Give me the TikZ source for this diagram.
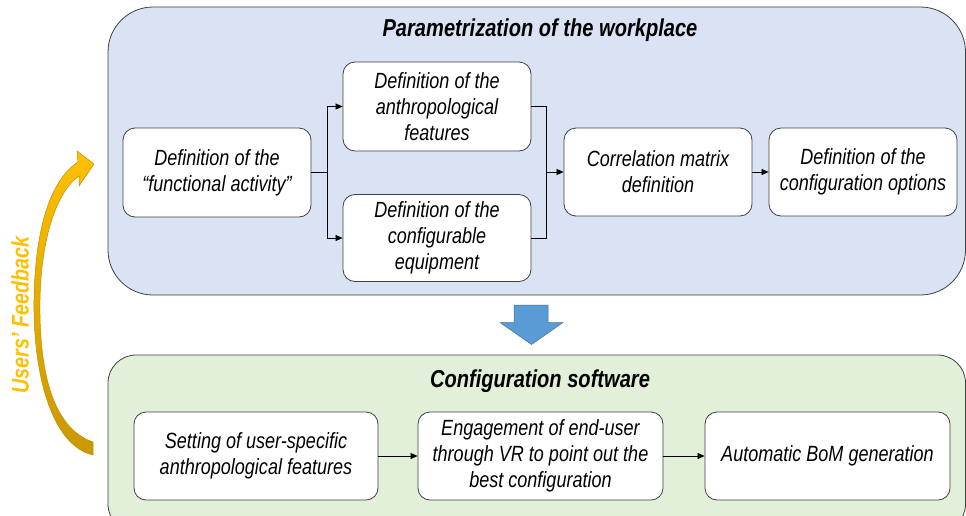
\documentclass[tikz,border=0pt]{standalone}
\usepackage{fontspec}
\setmainfont{Liberation Sans}[FakeStretch=0.82]
\usetikzlibrary{arrows.meta}
\definecolor{panelblue}{HTML}{DAE3F3}
\definecolor{panelgreen}{HTML}{E2F0D9}
\definecolor{edgegray}{HTML}{404040}
\definecolor{bigarrow}{HTML}{5B9BD5}
\definecolor{bigarrowedge}{HTML}{41719C}
\definecolor{gold}{HTML}{FFC000}
\definecolor{golddark}{HTML}{C99700}
\definecolor{goldedge}{HTML}{BF9000}
\begin{document}
\begin{tikzpicture}[x=1pt,y=-1pt,
  panel/.style={draw=edgegray, line width=0.8pt},
  box/.style={draw=edgegray, fill=white, line width=0.8pt, rounded corners=12pt,
    align=center, inner sep=2pt, font=\fontsize{22pt}{26pt}\selectfont\itshape},
  titletext/.style={font=\fontsize{24.5pt}{28pt}\selectfont\bfseries\itshape},
  arr/.style={-{Triangle[length=7pt,width=6pt]}, line width=0.7pt, black},
  conn/.style={line width=0.7pt, black}]
\useasboundingbox (0,0) rectangle (966,515);
\clip (0,0) rectangle (966,515);
% panels
\filldraw[panel, fill=panelblue, rounded corners=45pt] (108,7) rectangle (965.5,295);
\filldraw[panel, fill=panelgreen, rounded corners=28pt] (108,355) rectangle (965.5,532);
\node[titletext] (t1) at (540,30) {Parametrization of the workplace};
\node[titletext] (t2) at (540,381.5) {Configuration software};
% top boxes
\node[box, minimum width=188pt, minimum height=89pt] (A) at (217,172.5) {Definition of the\\“functional activity”};
\node[box, minimum width=188pt, minimum height=89pt] (B) at (437,106.5) {Definition of the\\anthropological\\features};
\node[box, minimum width=188pt, minimum height=87pt] (C) at (437,238) {Definition of the\\configurable\\equipment};
\node[box, minimum width=188pt, minimum height=88pt] (D) at (658,172) {Correlation matrix\\definition};
\node[box, minimum width=188pt, minimum height=88pt] (E) at (863,172) {Definition of the\\configuration options};
\coordinate (J1) at (327,172.5);
\coordinate (J2) at (546,172);
\draw[conn] (A.east) -- (J1);
\draw[arr] (J1) |- (B.west);
\draw[arr] (J1) |- (C.west);
\draw[conn] (B.east) -| (J2);
\draw[conn] (C.east) -| (J2);
\draw[arr] (J2) -- (D.west);
\draw[arr] (D.east) -- (E.west);
% block arrow
\filldraw[fill=bigarrow, draw=bigarrowedge, line width=0.5pt]
  (514,305) -- (548,305) -- (548,322.5) -- (563,322.5) -- (531.5,344.5) -- (500,322.5) -- (514,322.5) -- cycle;
% bottom boxes
\node[box, minimum width=244pt, minimum height=88pt] (F) at (256,456) {Setting of user-specific\\anthropological features};
\node[box, minimum width=245pt, minimum height=88pt] (G) at (540.5,456) {Engagement of end-user\\through VR to point out the\\best configuration};
\node[box, minimum width=245pt, minimum height=88pt] (H) at (827.5,456) {Automatic BoM generation};
\draw[arr] (F.east) -- (G.west);
\draw[arr] (G.east) -- (H.west);
% feedback arrow
\shadedraw[top color=gold, bottom color=golddark, draw=goldedge, line width=0.5pt]
  (93,455) .. controls (50,445) and (33,370) .. (34,300)
  .. controls (35,230) and (50,180) .. (78,162)
  -- (77,151) -- (94,164) -- (79,186) -- (79,176)
  .. controls (56,192) and (41,240) .. (40,300)
  .. controls (39,370) and (52,428) .. (93,442) -- cycle;
\node[rotate=90, text=gold, font=\fontsize{24pt}{28pt}\selectfont\bfseries\itshape] (fb) at (20,315) {Users’ Feedback};
\end{tikzpicture}
\end{document}
